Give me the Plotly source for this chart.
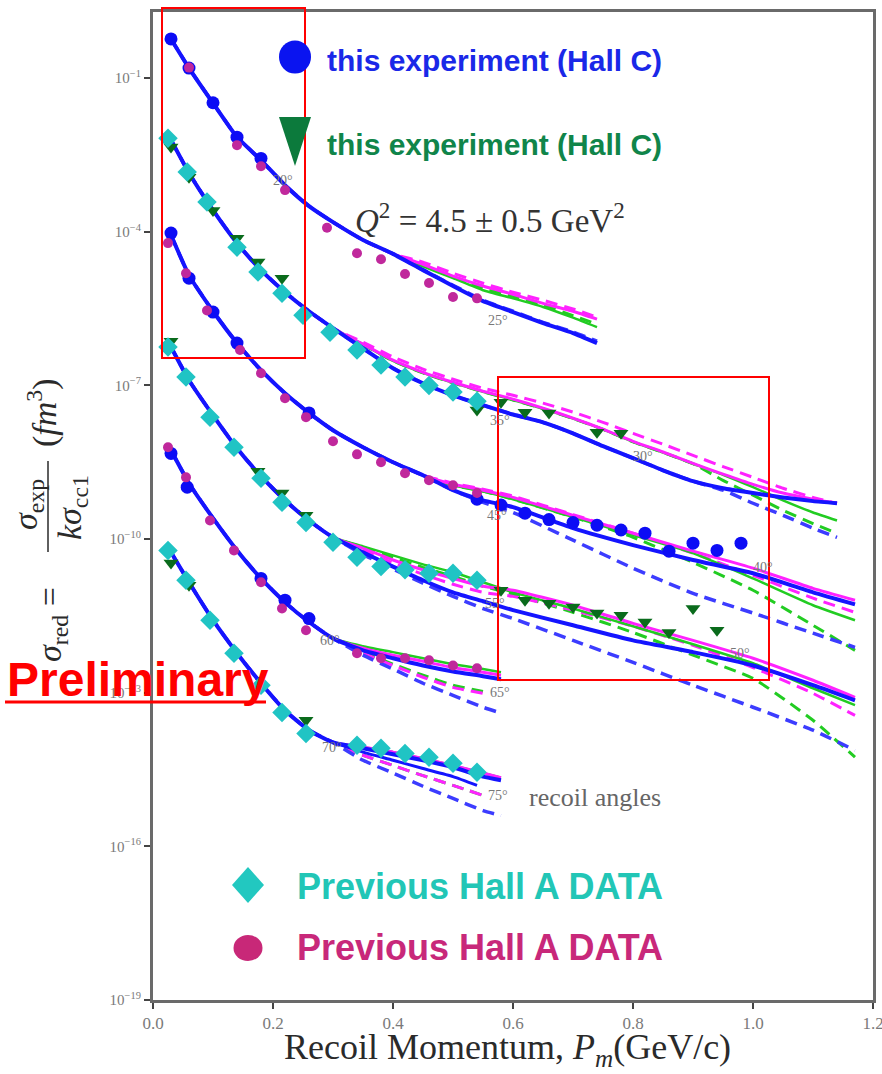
import plotly.graph_objects as go

# ------------------------------------------------------------------ data
# Group 1 (top curve, 20 / 25 deg)
g1_p = [0.03, 0.06, 0.10, 0.14, 0.18, 0.22, 0.26, 0.30, 0.35, 0.40, 0.45, 0.50, 0.55, 0.60, 0.65, 0.70, 0.74]
g1_common = [5.8e-1, 1.57e-1, 3.25e-2, 7.05e-3, 2.5e-3, 8.1e-4, 3.16e-4, 1.54e-4, 6.9e-5, 3.7e-5]
g1_bs = g1_common + [1.78e-5, 8.7e-6, 4.4e-6, 2.7e-6, 1.64e-6, 1.05e-6, 6.7e-7]
g1_bd = g1_common + [1.8e-5, 9.0e-6, 4.6e-6, 2.8e-6, 1.7e-6, 1.1e-6, 7.3e-7]
g1_gs = g1_common + [2.1e-5, 1.24e-5, 7.2e-6, 5.0e-6, 3.4e-6, 2.1e-6, 1.37e-6]
g1_gd = g1_common + [2.2e-5, 1.3e-5, 7.9e-6, 5.5e-6, 3.7e-6, 2.3e-6, 1.57e-6]
g1_ms = g1_common + [2.3e-5, 1.36e-5, 8.7e-6, 6.0e-6, 4.0e-6, 2.8e-6, 1.96e-6]
g1_md = g1_common + [2.55e-5, 1.55e-5, 9.9e-6, 6.6e-6, 4.6e-6, 3.1e-6, 2.15e-6]
g1_hallc_p = [0.03, 0.06, 0.10, 0.14, 0.18]
g1_hallc_y = [5.8e-1, 1.57e-1, 3.3e-2, 7.0e-3, 2.7e-3]
g1_halla_p = [0.06, 0.14, 0.18, 0.22, 0.29, 0.34, 0.38, 0.42, 0.46, 0.50, 0.54]
g1_halla_y = [1.6e-1, 4.9e-3, 1.9e-3, 6.5e-4, 1.2e-4, 3.8e-5, 2.9e-5, 1.5e-5, 1.0e-5, 5.3e-6, 5.0e-6]

# Group 2 (35 / 30 deg)
g2_p = [0.03, 0.06, 0.10, 0.14, 0.18, 0.22, 0.26, 0.30, 0.35, 0.40, 0.45, 0.50, 0.55, 0.60, 0.65,
        0.70, 0.75, 0.80, 0.85, 0.90, 0.95, 1.00, 1.05, 1.10, 1.14]
g2_common = [6.2e-3, 1.4e-3, 2.64e-4, 6.0e-5, 1.78e-5, 6.6e-6, 2.8e-6, 1.31e-6]
g2_bs = g2_common + [5.3e-7, 2.17e-7, 1.1e-7, 6.4e-8, 4.1e-8, 2.7e-8, 1.9e-8, 1.16e-8, 6.5e-9, 3.8e-9,
                     2.2e-9, 1.35e-9, 9.8e-10, 7.9e-10, 6.5e-10, 5.5e-10, 5.0e-10]
g2_bd = g2_common + [5.3e-7, 2.17e-7, 1.1e-7, 6.4e-8, 4.1e-8, 2.7e-8, 1.9e-8, 1.16e-8, 6.5e-9, 3.8e-9,
                     2.2e-9, 1.35e-9, 9.0e-10, 5.0e-10, 2.9e-10, 1.63e-10, 1.08e-10]
g2_ms = g2_common + [6.4e-7, 3.1e-7, 1.8e-7, 1.15e-7, 7.7e-8, 5.4e-8, 3.6e-8, 2.3e-8, 1.4e-8, 8.1e-9,
                     5.0e-9, 3.0e-9, 1.85e-9, 1.17e-9, 7.9e-10, 6.0e-10, 5.0e-10]
g2_md = g2_common + [7.0e-7, 3.6e-7, 2.07e-7, 1.32e-7, 8.8e-8, 6.4e-8, 4.5e-8, 3.0e-8, 1.9e-8, 1.16e-8,
                     7.1e-9, 4.3e-9, 2.6e-9, 1.6e-9, 9.8e-10, 6.5e-10, 5.0e-10]
g2_gs = g2_common + [6.3e-7, 3.0e-7, 1.75e-7, 1.12e-7, 7.5e-8, 5.2e-8, 3.5e-8, 2.25e-8, 1.38e-8, 7.9e-9,
                     4.9e-9, 2.95e-9, 1.8e-9, 1.03e-9, 5.7e-10, 3.3e-10, 2.3e-10]
g2_gd = g2_common + [6.3e-7, 3.0e-7, 1.75e-7, 1.12e-7, 7.5e-8, 5.2e-8, 3.5e-8, 2.25e-8, 1.38e-8, 7.9e-9,
                     4.9e-9, 2.95e-9, 1.4e-9, 7.2e-10, 3.65e-10, 2.0e-10, 1.3e-10]
g2_halla_p = [0.025, 0.057, 0.09, 0.14, 0.175, 0.215, 0.25, 0.295, 0.34, 0.38, 0.42, 0.46, 0.50, 0.54]
g2_halla_y = [6.7e-3, 1.46e-3, 3.8e-4, 5.0e-5, 1.63e-5, 6.3e-6, 2.35e-6, 1.09e-6, 4.9e-7, 2.5e-7,
              1.45e-7, 1.0e-7, 7.4e-8, 4.9e-8]
g2_hallc_p = [0.03, 0.06, 0.10, 0.14, 0.175, 0.215, 0.54, 0.58, 0.62, 0.66, 0.74, 0.78]
g2_hallc_y = [4.5e-3, 1.16e-3, 2.6e-4, 7.5e-5, 2.55e-5, 1.24e-5, 3.3e-8, 4.7e-8, 3.0e-8, 2.9e-8, 1.22e-8, 1.16e-8]

# Group 3 (45 / 40 deg)
g3_p = [0.03, 0.06, 0.10, 0.14, 0.18, 0.22, 0.26, 0.30, 0.35, 0.40, 0.45, 0.50, 0.55, 0.60, 0.70,
        0.80, 0.90, 1.00, 1.10, 1.17]
g3_common = [8.6e-5, 1.42e-5, 2.8e-6, 6.7e-7, 1.98e-7, 7.0e-8, 2.9e-8, 1.33e-8, 6.2e-9, 3.16e-9, 1.76e-9]
g3_bs = g3_common + [9.0e-10, 5.7e-10, 4.2e-10, 1.63e-10, 7.6e-11, 3.9e-11, 2.15e-11, 9.1e-12, 5.3e-12]
g3_bd = g3_common + [9.0e-10, 5.2e-10, 3.3e-10, 9.5e-11, 2.7e-11, 8.7e-12, 3.6e-12, 1.45e-12, 7.7e-13]
g3_ms = g3_common + [1.17e-9, 9.0e-10, 6.5e-10, 2.9e-10, 1.3e-10, 5.8e-11, 2.7e-11, 1.09e-11, 6.4e-12]
g3_md = g3_common + [1.23e-9, 9.4e-10, 6.9e-10, 3.0e-10, 1.3e-10, 5.3e-11, 1.96e-11, 7.0e-12, 3.7e-12]
g3_gs = g3_common + [1.12e-9, 8.6e-10, 6.0e-10, 2.7e-10, 1.19e-10, 5.3e-11, 1.7e-11, 5.1e-12, 2.6e-12]
g3_gd = g3_common + [1.12e-9, 8.6e-10, 6.0e-10, 2.7e-10, 1.08e-10, 3.5e-11, 1.0e-11, 2.07e-12, 6.7e-13]
g3_hallc_p = [0.03, 0.06, 0.10, 0.14, 0.26, 0.54, 0.58, 0.62, 0.66, 0.70, 0.74, 0.78, 0.82, 0.86, 0.90, 0.94, 0.98]
g3_hallc_y = [9.4e-5, 1.24e-5, 2.7e-6, 6.7e-7, 2.9e-8, 6.0e-10, 4.6e-10, 3.2e-10, 2.4e-10, 2.1e-10,
              1.86e-10, 1.5e-10, 1.3e-10, 5.8e-11, 8.3e-11, 6.0e-11, 8.3e-11]
g3_halla_p = [0.025, 0.055, 0.09, 0.145, 0.18, 0.22, 0.255, 0.30, 0.34, 0.38, 0.42, 0.46, 0.50, 0.54]
g3_halla_y = [6.0e-5, 1.55e-5, 2.9e-6, 4.9e-7, 1.73e-7, 5.6e-8, 2.4e-8, 8.1e-9, 4.5e-9, 3.16e-9,
              1.93e-9, 1.4e-9, 1.12e-9, 7.9e-10]

# Group 4 (55 / 50 deg)
g4_p = [0.03, 0.06, 0.10, 0.14, 0.18, 0.22, 0.26, 0.30, 0.35, 0.40, 0.45, 0.50, 0.55, 0.60, 0.70,
        0.80, 0.90, 1.00, 1.10, 1.17]
g4_common = [5.6e-7, 1.26e-7, 2.6e-8, 5.9e-9, 1.69e-9, 5.7e-10, 2.3e-10, 1.08e-10]
g4_gs = g4_common + [7.2e-11, 4.8e-11, 3.2e-11, 2.25e-11, 1.43e-11, 9.1e-12, 4.4e-12, 1.98e-12, 8.8e-13,
                     3.75e-13, 1.22e-13, 5.7e-14]
g4_ms = g4_common + [6.6e-11, 3.9e-11, 2.5e-11, 1.7e-11, 1.2e-11, 1.0e-11, 5.1e-12, 2.26e-12, 1.05e-12,
                     4.7e-13, 1.75e-13, 8.1e-14]
g4_bs = g4_common + [5.5e-11, 2.9e-11, 1.57e-11, 9.1e-12, 6.1e-12, 4.1e-12, 2.07e-12, 1.05e-12, 6.2e-13,
                     3.4e-13, 1.4e-13, 7.1e-14]
g4_bd = g4_common + [5.0e-11, 2.6e-11, 1.37e-11, 7.6e-12, 4.4e-12, 2.8e-12, 1.05e-12, 3.9e-13, 1.4e-13,
                     5.2e-14, 1.85e-14, 7.5e-15]
g4_gd = g4_common + [6.9e-11, 4.4e-11, 2.8e-11, 1.87e-11, 1.2e-11, 8.4e-12, 3.7e-12, 1.5e-12, 5.4e-13,
                     1.9e-13, 2.9e-14, 5.5e-15]
g4_md = g4_common + [6.0e-11, 3.4e-11, 2.05e-11, 1.31e-11, 9.1e-12, 7.6e-12, 4.1e-12, 1.98e-12, 8.4e-13,
                     3.1e-13, 9.7e-14, 3.6e-14]
g4_halla_p = [0.025, 0.055, 0.095, 0.135, 0.18, 0.215, 0.255, 0.30, 0.34, 0.38, 0.42, 0.46, 0.50, 0.54]
g4_halla_y = [5.6e-7, 1.45e-7, 2.4e-8, 6.2e-9, 1.54e-9, 5.2e-10, 2.1e-10, 8.7e-11, 4.4e-11, 2.9e-11,
              2.5e-11, 2.15e-11, 2.15e-11, 1.57e-11]
g4_hallc_p = [0.03, 0.175, 0.215, 0.255, 0.58, 0.62, 0.66, 0.70, 0.74, 0.78, 0.82, 0.86, 0.90, 0.94]
g4_hallc_y = [7.3e-7, 2.1e-9, 7.9e-10, 2.9e-10, 1.0e-11, 6.4e-12, 5.6e-12, 4.7e-12, 3.6e-12, 3.25e-12,
              2.4e-12, 1.5e-12, 4.4e-12, 1.66e-12]

# Group 5 (60 / 65 deg)
g5_p = [0.03, 0.06, 0.10, 0.14, 0.18, 0.22, 0.26, 0.30, 0.35, 0.40, 0.45, 0.50, 0.55, 0.58]
g5_common = [5.4e-9, 1.23e-9, 2.55e-10, 6.0e-11, 1.7e-11, 5.8e-12, 2.4e-12, 1.15e-12]
g5_gs = g5_common + [8.1e-13, 6.2e-13, 4.7e-13, 3.6e-13, 2.9e-13, 2.5e-13]
g5_ms = g5_common + [7.4e-13, 5.4e-13, 4.1e-13, 3.1e-13, 2.5e-13, 2.2e-13]
g5_bs = g5_common + [6.7e-13, 4.7e-13, 3.4e-13, 2.6e-13, 2.1e-13, 1.83e-13]
g5_bd = g5_common + [5.4e-13, 2.9e-13, 1.53e-13, 8.9e-14, 5.2e-14, 4.0e-14]
g5_md = g5_common + [5.9e-13, 3.4e-13, 2.0e-13, 1.27e-13, 9.7e-14]
g5_gd = g5_common + [6.2e-13, 3.6e-13, 2.2e-13, 1.4e-13, 1.06e-13]
g5_halla_p = [0.025, 0.055, 0.095, 0.135, 0.18, 0.215, 0.255, 0.34, 0.38, 0.42, 0.46, 0.50, 0.54]
g5_halla_y = [6.2e-9, 1.6e-9, 2.3e-10, 6.0e-11, 1.43e-11, 4.4e-12, 1.66e-12, 5.9e-13, 4.7e-13, 4.7e-13,
              4.3e-13, 3.4e-13, 3.0e-13]
g5_hallc_p = [0.03, 0.057, 0.18, 0.22, 0.26]
g5_hallc_y = [4.7e-9, 1.03e-9, 1.7e-11, 6.4e-12, 2.8e-12]

# Group 6 (70 / 75 deg)
g6_p = [0.03, 0.06, 0.10, 0.14, 0.18, 0.22, 0.26, 0.30, 0.35, 0.40, 0.45, 0.50, 0.55, 0.58]
g6_common = [5.5e-11, 1.43e-11, 2.6e-12, 5.9e-13, 1.53e-13, 4.5e-14, 1.85e-14, 1.07e-14]
g6_ms = g6_common + [8.6e-15, 6.9e-15, 5.2e-15, 3.8e-15, 2.7e-15, 2.2e-15]
g6_bs = g6_common + [8.2e-15, 6.3e-15, 4.8e-15, 3.5e-15, 2.3e-15, 1.95e-15]
g6_bd = g6_common + [4.8e-15, 2.7e-15, 1.49e-15, 8.6e-16, 5.0e-16, 4.0e-16]
g6_md = g6_common + [6.0e-15, 3.8e-15, 2.4e-15, 1.55e-15, 9.9e-16]
g6_b2_p = [0.30, 0.35, 0.40, 0.45, 0.50, 0.54]
g6_b2 = [1.07e-14, 6.9e-15, 4.8e-15, 3.3e-15, 2.3e-15, 1.55e-15]
g6_halla_p = [0.025, 0.055, 0.095, 0.135, 0.18, 0.215, 0.255, 0.34, 0.38, 0.42, 0.46, 0.50, 0.54]
g6_halla_y = [6.0e-11, 1.57e-11, 2.6e-12, 5.9e-13, 1.4e-13, 4.1e-14, 1.6e-14, 9.4e-15, 8.2e-15, 6.5e-15,
              5.5e-15, 4.2e-15, 2.8e-15]
g6_hallc_p = [0.03, 0.06, 0.255]
g6_hallc_y = [3.4e-11, 1.25e-11, 2.9e-14]

x_ticks = [0.0, 0.2, 0.4, 0.6, 0.8, 1.0, 1.2]
x_ticktext = ["0.0", "0.2", "0.4", "0.6", "0.8", "1.0", "1.2"]
y_ticks = [1e-1, 1e-4, 1e-7, 1e-10, 1e-13, 1e-16, 1e-19]
y_ticktext = ["10<sup>−1</sup>", "10<sup>−4</sup>", "10<sup>−7</sup>", "10<sup>−10</sup>",
              "10<sup>−13</sup>", "10<sup>−16</sup>", "10<sup>−19</sup>"]

angle_labels = ["20°", "25°", "35°", "30°", "45°", "40°", "55°", "50°", "60°", "65°", "70°", "75°"]
angle_label_px = [(283, 181), (498, 320), (500, 420), (643, 456), (497, 515), (763, 567),
                  (495, 603), (740, 653), (330, 640), (500, 692), (332, 747), (498, 795)]

# ------------------------------------------------------------------ layout helpers
W, H = 882, 1074
ML, MR, MT, MB = 153, 9, 12, 74
PW, PH = W - ML - MR, H - MT - MB


def PX(x):
    return (x - ML) / PW


def PY(y):
    return (H - MB - y) / PH


BLUE = "#1414ff"
BLUE_D = "#3c3cff"
GREEN = "#22cc22"
MAG = "#ff22ff"
DASH = "12px,7px"

fig = go.Figure()


def add_line(p, y, color, width, dash=None):
    fig.add_trace(go.Scatter(
        x=p, y=y, mode="lines",
        line=dict(color=color, width=width, dash=dash or "solid", shape="spline", smoothing=0.5),
        showlegend=False, hoverinfo="skip"))


groups = [
    (g1_p, g1_bs, g1_bd, g1_gs, g1_gd, g1_ms, g1_md),
    (g2_p, g2_bs, g2_bd, g2_gs, g2_gd, g2_ms, g2_md),
    (g3_p, g3_bs, g3_bd, g3_gs, g3_gd, g3_ms, g3_md),
    (g4_p, g4_bs, g4_bd, g4_gs, g4_gd, g4_ms, g4_md),
    (g5_p, g5_bs, g5_bd, g5_gs, g5_gd, g5_ms, g5_md),
    (g6_p, g6_bs, g6_bd, g6_ms, g6_md, g6_ms, g6_md),
]

for p, bs, bd, gs, gd, ms, md in groups:
    add_line(p[:len(gd)], gd, GREEN, 3, DASH)
    add_line(p[:len(md)], md, MAG, 3, DASH)
    add_line(p[:len(bd)], bd, BLUE_D, 3.5, DASH)
    add_line(p[:len(gs)], gs, GREEN, 2.5)
    add_line(p[:len(ms)], ms, MAG, 3)
    add_line(p[:len(bs)], bs, BLUE, 4)
add_line(g6_b2_p, g6_b2, BLUE, 3)


def add_markers(p, y, symbol, size, color):
    fig.add_trace(go.Scatter(
        x=p, y=y, mode="markers",
        marker=dict(symbol=symbol, size=size, color=color, line=dict(width=0)),
        showlegend=False, hoverinfo="skip"))


for p, y in [(g1_hallc_p, g1_hallc_y), (g3_hallc_p, g3_hallc_y), (g5_hallc_p, g5_hallc_y)]:
    add_markers(p, y, "circle", 13, "#0c0cf5")
for p, y in [(g1_halla_p, g1_halla_y), (g3_halla_p, g3_halla_y), (g5_halla_p, g5_halla_y)]:
    add_markers(p, y, "circle", 10, "#c0289c")
for p, y in [(g2_hallc_p, g2_hallc_y), (g4_hallc_p, g4_hallc_y), (g6_hallc_p, g6_hallc_y)]:
    add_markers(p, y, "triangle-down", 13, "#0a6b1c")
for p, y in [(g2_halla_p, g2_halla_y), (g4_halla_p, g4_halla_y), (g6_halla_p, g6_halla_y)]:
    add_markers(p, y, "diamond", 15, "#20c4c4")

# ------------------------------------------------------------------ annotations
SERIF = "Liberation Serif"
SANS = "Liberation Sans"
ann = []


def text(x, y, s, size, color, family=SERIF, xanchor="center", angle=0):
    ann.append(dict(x=PX(x), y=PY(y), xref="paper", yref="paper", text=s, showarrow=False,
                    xanchor=xanchor, yanchor="middle", textangle=angle,
                    font=dict(size=size, color=color, family=family)))


for lab, (lx, ly) in zip(angle_labels, angle_label_px):
    text(lx, ly, lab, 14, "#777777")
text(527, 797, "recoil angles", 26, "#666666", xanchor="left")

text(325, 60, "<b>this experiment (Hall C)</b>", 30, "#1a28e8", SANS, xanchor="left")
text(325, 145, "<b>this experiment (Hall C)</b>", 30, "#10854a", SANS, xanchor="left")
text(490, 218, "<i>Q</i><sup>2</sup> = 4.5 ± 0.5 GeV<sup>2</sup>", 33, "#333333")
text(295, 886, "<b>Previous Hall A DATA</b>", 36, "#22c6b6", SANS, xanchor="left")
text(295, 947, "<b>Previous Hall A DATA</b>", 36, "#c8287a", SANS, xanchor="left")

# axis titles
text(507, 1049, "Recoil Momentum, <i>P<sub>m</sub></i>(GeV/c)", 36, "#2a2a2a")
text(52, 625, "<i>σ</i><sub>red</sub> =", 34, "#2a2a2a", angle=-90)
text(28, 505, "<i>σ</i><sub>exp</sub>", 34, "#2a2a2a", angle=-90)
text(72, 508, "<i>kσ</i><sub>cc1</sub>", 34, "#2a2a2a", angle=-90)
text(42, 413, "(<i>fm</i><sup>3</sup>)", 34, "#2a2a2a", angle=-90)

text(5, 679, "<b>Preliminary</b>", 48, "#ff0000", SANS, xanchor="left")

# ------------------------------------------------------------------ shapes
shapes = []


def rect(x0, y0, x1, y1, color, width):
    shapes.append(dict(type="rect", xref="paper", yref="paper", x0=PX(x0), x1=PX(x1),
                       y0=PY(y1), y1=PY(y0), line=dict(color=color, width=width)))


def seg(x0, y0, x1, y1, color, width):
    shapes.append(dict(type="line", xref="paper", yref="paper", x0=PX(x0), x1=PX(x1),
                       y0=PY(y0), y1=PY(y1), line=dict(color=color, width=width)))


def poly(points, color):
    path = "M " + " L ".join(f"{PX(a):.5f},{PY(b):.5f}" for a, b in points) + " Z"
    shapes.append(dict(type="path", xref="paper", yref="paper", path=path,
                       fillcolor=color, line=dict(width=0)))


def ellipse(cx, cy, rx, ry, color):
    shapes.append(dict(type="circle", xref="paper", yref="paper",
                       x0=PX(cx - rx), x1=PX(cx + rx), y0=PY(cy + ry), y1=PY(cy - ry),
                       fillcolor=color, line=dict(width=0)))


rect(162, 8, 305, 358, "#ff0000", 2)
rect(498, 377, 769, 680, "#ff0000", 2)
seg(5, 702, 266, 702, "#ff0000", 3)
seg(48, 461, 48, 552, "#2a2a2a", 1.5)

ellipse(295, 57, 16, 16.5, "#0a14f0")
poly([(279, 117), (311, 117), (295, 166)], "#0c7a3c")
poly([(248, 867), (264, 885), (248, 903), (232, 885)], "#22c8c0")
ellipse(248, 948, 14.5, 13, "#c82878")

fig.update_layout(
    width=W, height=H, autosize=False,
    margin=dict(l=ML, r=MR, t=MT, b=MB, pad=0),
    paper_bgcolor="white", plot_bgcolor="white",
    showlegend=False,
    annotations=ann, shapes=shapes,
    xaxis=dict(range=[0, 1.2], tickvals=x_ticks, ticktext=x_ticktext, showgrid=False, zeroline=False,
               automargin=False, ticklabeloverflow="allow",
               showline=True, mirror=True, linecolor="#6a6a6a", linewidth=3,
               ticks="outside", ticklen=6, tickwidth=2, tickcolor="#444444",
               tickfont=dict(family=SERIF, size=17, color="#7a7a7a")),
    yaxis=dict(type="log", range=[-19, 0.29], tickvals=y_ticks, ticktext=y_ticktext, showgrid=False,
               zeroline=False, automargin=False, ticklabeloverflow="allow",
               showline=True, mirror=True, linecolor="#6a6a6a", linewidth=3,
               ticks="outside", ticklen=6, tickwidth=2, tickcolor="#444444",
               tickfont=dict(family=SERIF, size=15, color="#7a7a7a")),
)

fig.write_html("out.html")
